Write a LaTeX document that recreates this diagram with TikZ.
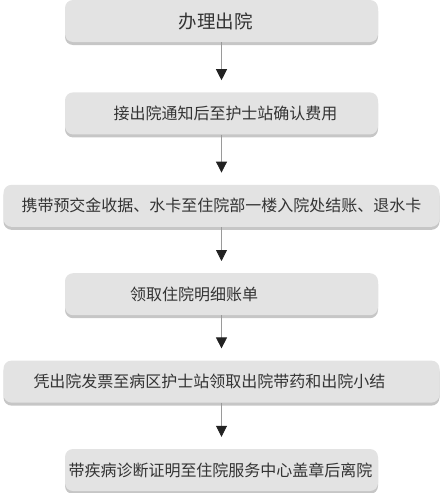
\documentclass[tikz,border=0pt]{standalone}
\usepackage{fontspec}
\setmainfont{Noto Sans CJK SC}
\usepackage{tikz}
\usetikzlibrary{positioning,arrows.meta,shadows}
\definecolor{cBox}{HTML}{E3E3E3}
\definecolor{cShadow}{HTML}{C6C6C6}
\definecolor{cText}{HTML}{333333}
\definecolor{cLine}{HTML}{9A9A9A}
\definecolor{cTip}{HTML}{222222}
\tikzset{
  blk/.style={rounded corners=8pt, fill=cBox, text=cText, minimum height=42pt,
              inner sep=0pt, font=\fontsize{16pt}{18pt}\selectfont,
              drop shadow={shadow xshift=0pt, shadow yshift=-3pt, fill=cShadow, opacity=1}},
  narrow/.style={blk, minimum width=313pt},
  wide/.style={blk, minimum width=436pt},
  ar/.style={-{Triangle[length=11pt, width=11pt, color=cTip, fill=cTip]}, draw=cLine,
             line width=0.8pt, shorten >=12pt},
}

\begin{document}
\begin{tikzpicture}[x=1pt, y=-1pt]
    \useasboundingbox (0,0) rectangle (442,493);
    \node[narrow, font=\fontsize{18.5pt}{20pt}\selectfont] (b1) at (221.5,21) {\hspace*{-12pt}办理出院};
    \node[narrow, below=50pt of b1] (b2) {\hspace*{8pt}接出院通知后至护士站确认费用};
    \node[wide, below=50pt of b2] (b3) {携带预交金收据、水卡至住院部一楼入院处结账、退水卡};
    \node[narrow, below=46pt of b3, text width=183pt, inner xsep=65pt, align=left] (b4) {领取住院明细账单};
    \node[wide, below=45pt of b4, text width=376pt, inner xsep=30pt, align=left] (b5) {凭出院发票至病区护士站领取出院带药和出院小结};
    \node[narrow, below=46pt of b5] (b6) {\hspace*{-2pt}带疾病诊断证明至住院服务中心盖章后离院};
    \draw[ar] (b1) -- (b2);
    \draw[ar] (b2) -- (b3);
    \draw[ar] (b3) -- (b4);
    \draw[ar] (b4) -- (b5);
    \draw[ar] (b5) -- (b6);
  \end{tikzpicture}
\end{document}
